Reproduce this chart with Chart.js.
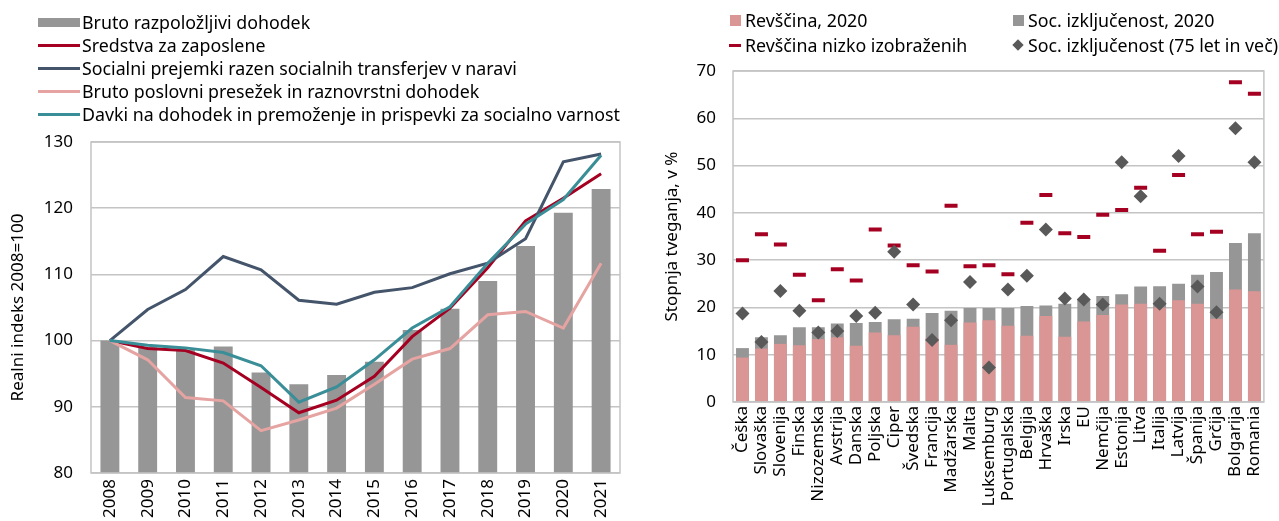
<!DOCTYPE html>
<html>
<head>
<meta charset="utf-8">
<title>Dohodek in tveganje revščine</title>
<script src="https://cdn.jsdelivr.net/npm/chart.js@4.4.0/dist/chart.umd.min.js"></script>
<style>
  body { margin: 0; background: #fff; }
  #wrap { position: relative; width: 1279px; height: 521px; overflow: hidden; font-family: 'Noto Sans', sans-serif; }
  canvas { position: absolute; top: 0; }
  #incomeChart { left: 0; }
  #riskChart { left: 640px; }
  .item { position: absolute; height: 22px; line-height: 22px; font-size: 17.8px; color: #000; white-space: nowrap; }
  .sw { position: absolute; top: 50%; }
</style>
</head>
<body>
<div id="wrap">
  <canvas id="incomeChart" width="640" height="521"></canvas>
  <canvas id="riskChart" width="639" height="521"></canvas>
</div>
<script>
// Left chart: real index 2008=100
var years = ['2008', '2009', '2010', '2011', '2012', '2013', '2014', '2015', '2016', '2017', '2018', '2019', '2020', '2021'];
var disposableIncome = [100, 99.0, 98.6, 99.1, 95.2, 93.4, 94.8, 96.8, 101.6, 104.8, 109.0, 114.3, 119.3, 122.9];
var compensation = [100, 98.8, 98.5, 96.6, 92.9, 89.1, 91.0, 94.6, 100.6, 104.9, 111.0, 118.1, 121.5, 125.2];
var socialBenefits = [100, 104.7, 107.7, 112.7, 110.7, 106.1, 105.5, 107.3, 108.0, 110.1, 111.7, 115.4, 127.0, 128.2];
var operatingSurplus = [100, 97.1, 91.4, 90.9, 86.4, 88.0, 89.8, 93.4, 97.2, 98.8, 103.9, 104.4, 101.9, 111.7];
var taxesContributions = [100, 99.3, 98.9, 98.2, 96.2, 90.7, 93.0, 97.1, 101.9, 105.1, 111.7, 117.6, 121.3, 128.0];
var incomeTicks = [80, 130, 10];

// Right chart: at-risk rates in %
var countries = ['Češka', 'Slovaška', 'Slovenija', 'Finska', 'Nizozemska', 'Avstrija', 'Danska', 'Poljska', 'Ciper', 'Švedska',
  'Francija', 'Madžarska', 'Malta', 'Luksemburg', 'Portugalska', 'Belgija', 'Hrvaška', 'Irska', 'EU', 'Nemčija',
  'Estonija', 'Litva', 'Italija', 'Latvija', 'Španija', 'Grčija', 'Bolgarija', 'Romania'];
var poverty2020 = [9.4, 11.3, 12.3, 12.0, 13.3, 13.7, 11.9, 14.7, 14.1, 15.9, 13.6, 12.1, 16.8, 17.3, 16.1, 14.0, 18.2, 13.8, 17.0, 18.4, 20.6, 20.8, 20.0, 21.5, 20.8, 17.6, 23.8, 23.4];
var exclusion2020 = [11.4, 13.7, 14.1, 15.8, 15.8, 16.6, 16.7, 16.9, 17.5, 17.6, 18.8, 19.3, 19.9, 19.9, 19.9, 20.3, 20.4, 20.8, 21.7, 22.4, 22.8, 24.4, 24.5, 25.0, 26.9, 27.5, 33.6, 35.7];
var povertyLowEdu = [30.0, 35.5, 33.3, 26.9, 21.5, 28.1, 25.7, 36.5, 33.1, 28.9, 27.6, 41.5, 28.7, 28.9, 27.0, 37.9, 43.8, 35.7, 34.9, 39.6, 40.6, 45.3, 32.0, 48.0, 35.5, 36.0, 67.6, 65.2];
var exclusion75 = [18.7, 12.7, 23.5, 19.3, 14.7, 15.0, 18.2, 18.9, 31.8, 20.6, 13.1, 17.3, 25.4, 7.3, 23.8, 26.7, 36.5, 21.9, 21.7, 20.6, 50.7, 43.5, 20.8, 52.0, 24.4, 19.0, 57.9, 50.7];
var riskTicks = [0, 70, 10];

(function() {
  'use strict';

  var font = { family: 'Noto Sans', size: 17 };
  var gridColor = '#c4c4c4';
  var barGray = '#969696';
  var darkRed = '#a50021';
  var slate = '#44546a';
  var rose = '#e5a3a1';
  var teal = '#3a8e98';
  var pink = '#da9694';
  var diamondGray = '#595959';

  // Grey box round the plot area.
  var plotFrame = {
    id: 'plotFrame',
    afterDatasetsDraw: function(chart) {
      var a = chart.chartArea, ctx = chart.ctx;
      ctx.save();
      ctx.strokeStyle = gridColor;
      ctx.lineWidth = 1.5;
      ctx.strokeRect(a.left, a.top, a.right - a.left, a.bottom - a.top);
      ctx.restore();
    }
  };

  function legendItem(text, x, y, swatch) {
    var el = document.createElement('div');
    el.className = 'item';
    el.style.left = x + 'px';
    el.style.top = (y - 11) + 'px';
    el.style.paddingLeft = swatch.gap + 'px';
    var sw = document.createElement('span');
    sw.className = 'sw';
    sw.style.left = swatch.left + 'px';
    sw.style.width = swatch.w + 'px';
    sw.style.height = swatch.h + 'px';
    sw.style.marginTop = (-swatch.h / 2) + 'px';
    sw.style.background = swatch.color;
    if (swatch.rotate) sw.style.transform = 'rotate(45deg)';
    el.appendChild(sw);
    el.appendChild(document.createTextNode(text));
    document.getElementById('wrap').appendChild(el);
  }

  function lineSet(label, data, color, order) {
    return {
      type: 'line', label: label, data: data, order: order,
      borderColor: color, borderWidth: 3, pointRadius: 0, tension: 0, fill: false
    };
  }

  // Income chart.
  var incomeSets = [
    { type: 'bar', label: 'Bruto razpoložljivi dohodek', data: disposableIncome, backgroundColor: barGray,
      barPercentage: 0.5, categoryPercentage: 1, order: 5 },
    lineSet('Sredstva za zaposlene', compensation, darkRed, 4),
    lineSet('Socialni prejemki razen socialnih transferjev v naravi', socialBenefits, slate, 3),
    lineSet('Bruto poslovni presežek in raznovrstni dohodek', operatingSurplus, rose, 2),
    lineSet('Davki na dohodek in premoženje in prispevki za socialno varnost', taxesContributions, teal, 1)
  ];

  new Chart(document.getElementById('incomeChart'), {
    type: 'bar',
    data: { labels: years, datasets: incomeSets },
    options: {
      responsive: false,
      animation: false,
      layout: { padding: { top: 142, right: 20, left: 0, bottom: 0 } },
      plugins: { legend: { display: false }, tooltip: { enabled: false } },
      scales: {
        x: {
          grid: { display: false, drawTicks: false },
          border: { display: false },
          ticks: { color: '#000', font: font, minRotation: 90, maxRotation: 90, padding: 6 },
          afterFit: function(s) { s.height = 48; }
        },
        y: {
          min: incomeTicks[0], max: incomeTicks[1],
          grid: { color: gridColor, lineWidth: 1.5, drawTicks: false },
          border: { display: false },
          ticks: { stepSize: incomeTicks[2], color: '#000', font: font, padding: 18 },
          title: { display: true, text: 'Realni indeks 2008=100', color: '#000', font: font, padding: { top: 8, bottom: 0 } },
          afterFit: function(s) { s.width = 91; }
        }
      }
    },
    plugins: [plotFrame]
  });

  legendItem(incomeSets[0].label, 38, 22, { left: 0, w: 42, h: 9, color: barGray, gap: 44 });
  for (var i = 1; i < incomeSets.length; i++) {
    legendItem(incomeSets[i].label, 38, 22 + i * 23, { left: 0, w: 42, h: 3, color: incomeSets[i].borderColor, gap: 44 });
  }

  // Risk chart.
  var riskSets = [
    { type: 'line', label: 'Soc. izključenost (75 let in več)', data: exclusion75, showLine: false, order: 0,
      pointStyle: 'rectRot', pointRadius: 7, pointBorderWidth: 0, pointBackgroundColor: diamondGray, pointBorderColor: diamondGray },
    { type: 'line', label: 'Revščina nizko izobraženih', data: povertyLowEdu, showLine: false, order: 1,
      pointStyle: 'line', pointRadius: 6.5, pointBorderWidth: 4, pointBorderColor: darkRed, pointBackgroundColor: darkRed },
    { type: 'bar', label: 'Revščina, 2020', data: poverty2020, backgroundColor: pink, grouped: false,
      barPercentage: 0.68, categoryPercentage: 1, order: 2 },
    { type: 'bar', label: 'Soc. izključenost, 2020', data: exclusion2020, backgroundColor: barGray, grouped: false,
      barPercentage: 0.68, categoryPercentage: 1, order: 3 }
  ];

  new Chart(document.getElementById('riskChart'), {
    type: 'bar',
    data: { labels: countries, datasets: riskSets },
    options: {
      responsive: false,
      animation: false,
      layout: { padding: { top: 71, right: 1, left: 0, bottom: 0 } },
      plugins: { legend: { display: false }, tooltip: { enabled: false } },
      scales: {
        x: {
          grid: { display: false, drawTicks: false },
          border: { display: false },
          ticks: { color: '#000', font: font, minRotation: 90, maxRotation: 90, padding: 4, autoSkip: false },
          afterFit: function(s) { s.height = 119; }
        },
        y: {
          min: riskTicks[0], max: riskTicks[1],
          grid: { color: gridColor, lineWidth: 1.5, drawTicks: false },
          border: { display: false },
          ticks: { stepSize: riskTicks[2], color: '#000', font: font, padding: 17 },
          title: { display: true, text: 'Stopnja tveganja, v %', color: '#000', font: font, padding: { top: 22, bottom: 0 } },
          afterFit: function(s) { s.width = 93; }
        }
      }
    },
    plugins: [plotFrame]
  });

  legendItem(riskSets[2].label, 730, 20, { left: 0, w: 11, h: 11, color: pink, gap: 15 });
  legendItem(riskSets[3].label, 1013, 20, { left: 0, w: 11, h: 11, color: barGray, gap: 15 });
  legendItem(riskSets[1].label, 729, 45, { left: 0, w: 12, h: 3, color: darkRed, gap: 16 });
  legendItem(riskSets[0].label, 1014, 45, { left: 0, w: 8, h: 8, color: diamondGray, gap: 14, rotate: true });
})();
</script>
</body>
</html>
